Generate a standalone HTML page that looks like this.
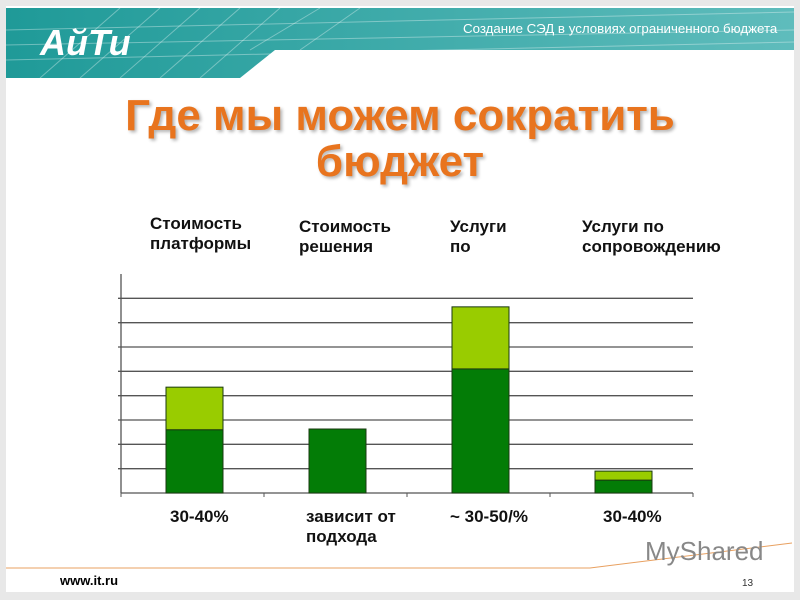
<!DOCTYPE html>
<html><head><meta charset="utf-8">
<style>
body{margin:0;width:800px;height:600px;background:#e8e8e8;position:relative;overflow:hidden;font-family:"Liberation Sans",sans-serif}
#slide{position:absolute;left:6px;top:6px;width:788px;height:586px;background:#fff}
.t{position:absolute;font-family:"Liberation Sans","Noto Sans CJK SC",sans-serif}
.lbl{font-weight:bold;font-size:17px;color:#111;line-height:20px}
</style></head><body>
<div id="slide"></div>
<svg width="800" height="600" style="position:absolute;left:0;top:0">
<defs><linearGradient id="g" x1="0" y1="0" x2="1" y2="0"><stop offset="0" stop-color="#1f9a98"/><stop offset="1" stop-color="#5fbcbc"/></linearGradient></defs>
<path d="M6 8 H794 V50 H275 L240 78 H6 Z" fill="url(#g)"/>
<g stroke="#ffffff" stroke-opacity="0.35" stroke-width="1">
<line x1="6" y1="30" x2="794" y2="12"/><line x1="6" y1="45" x2="794" y2="30"/><line x1="6" y1="60" x2="794" y2="42"/>
<line x1="40" y1="78" x2="120" y2="8"/><line x1="80" y1="78" x2="160" y2="8"/><line x1="120" y1="78" x2="200" y2="8"/><line x1="160" y1="78" x2="240" y2="8"/><line x1="200" y1="78" x2="280" y2="8"/><line x1="250" y1="50" x2="320" y2="8"/><line x1="300" y1="50" x2="360" y2="8"/>
</g>
<path d="M6 568 H590 L792 543" fill="none" stroke="#e8a060" stroke-width="1"/>
</svg>
<div class="t" style="left:40px;top:22px;font-size:36px;font-style:italic;font-weight:bold;color:#fff">АйТи</div>
<div class="t" style="left:463px;top:21px;font-size:13.3px;color:#fff">Создание СЭД в условиях ограниченного бюджета</div>
<div class="t" style="left:0;width:800px;top:93px;text-align:center;font-size:44px;font-weight:bold;color:#e8741e;line-height:46px;text-shadow:2px 2px 3px rgba(0,0,0,0.3)">Где мы можем сократить<br>бюджет</div>
<div class="t lbl" style="left:150px;top:214px">Стоимость<br>платформы</div>
<div class="t lbl" style="left:299px;top:217px">Стоимость<br>решения</div>
<div class="t lbl" style="left:450px;top:217px">Услуги<br>по</div>
<div class="t lbl" style="left:582px;top:217px">Услуги по<br>сопровождению</div>
<div class="t lbl" style="left:170px;top:507px">30-40%</div>
<div class="t lbl" style="left:306px;top:507px">зависит от<br>подхода</div>
<div class="t lbl" style="left:450px;top:507px">~ 30-50/%</div>
<div class="t lbl" style="left:603px;top:507px">30-40%</div>
<div class="t" style="left:60px;top:573px;font-size:13px;font-weight:bold">www.it.ru</div>
<div class="t" style="left:742px;top:578px;font-size:10px;color:#333">13</div>
<div class="t" style="left:645px;top:536px;font-size:26px;color:#888">MyShared</div>
<svg id="chart" width="800" height="600" style="position:absolute;left:0;top:0"></svg>
<script>
const categories=["platform","solution","services","support"];
const baseValues=[2.6,2.63,5.1,0.53];
const extraValues=[1.75,0,2.55,0.37];
const yMax=9;
const ns="http://www.w3.org/2000/svg";
const svg=document.getElementById('chart');
const x0=121,x1=693,y0=493,yTop=274;
const y=v=>y0-(y0-yTop)*v/yMax;
const bw=(x1-x0)/categories.length;
function mk(t,a){const e=document.createElementNS(ns,t);for(const k in a)e.setAttribute(k,a[k]);svg.appendChild(e);return e;}
for(let i=1;i<yMax;i++){const l=mk('line',{x1:x0-3,x2:x1,y1:y(i),y2:y(i),stroke:'#555','stroke-width':1.3});

}
const ax=mk('line',{x1:x0,x2:x0,y1:yTop,y2:y0,stroke:'#555','stroke-width':1.3});


const bx=mk('line',{x1:x0,x2:x1,y1:y0,y2:y0,stroke:'#555','stroke-width':1.3});


for(let i=0;i<=categories.length;i++){mk('line',{x1:x0+i*bw,x2:x0+i*bw,y1:y0,y2:y0+4,stroke:'#555'});}
categories.forEach((c,i)=>{
const cx=x0+bw*(i+0.5)+2,w=57;
const b=mk('rect',{x:cx-w/2,y:y(baseValues[i]),width:w,height:y0-y(baseValues[i]),fill:'#037c06',stroke:'#1a3a10','stroke-width':1});


if(extraValues[i]>0){const t=baseValues[i]+extraValues[i];
const e=mk('rect',{x:cx-w/2,y:y(t),width:w,height:y(baseValues[i])-y(t),fill:'#99cc00',stroke:'#1a3a10','stroke-width':1});

}
});
</script>
</body></html>
